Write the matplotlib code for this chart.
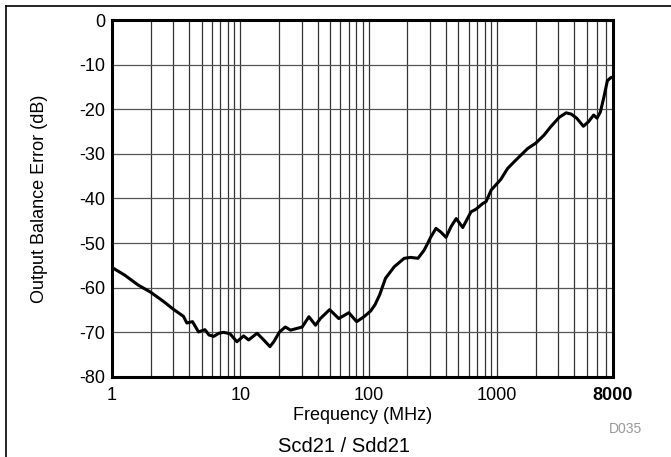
import numpy as np
import matplotlib.pyplot as plt
from matplotlib.lines import Line2D
from matplotlib.ticker import FixedLocator, NullFormatter

plt.rcParams['font.family'] = ['Liberation Sans', 'DejaVu Sans']

# Output balance error vs frequency
freq_mhz = [1.0, 1.02, 1.26, 1.6, 2.0, 2.5, 3.0, 3.6, 3.83, 4.24, 4.72, 5.3, 5.7,
            6.2, 6.8, 7.4, 8.3, 9.4, 10.6, 11.6, 13.5, 15.2, 17.0, 18.2, 20.2,
            22.4, 24.6, 27.7, 30.3, 34.2, 38.5, 42.0, 49.6, 58.4, 70.0, 80.5,
            91.8, 103.6, 112, 122, 135, 158, 189, 212, 242, 270, 305, 334, 364,
            400, 438, 480, 540, 626, 685, 775, 820, 900, 1070, 1205, 1355, 1530,
            1730, 2000, 2320, 2620, 3050, 3450, 3790, 4170, 4700, 5150, 5650,
            6000, 6380, 6800, 7230, 7700, 8000]
balance_db = [-55.4, -55.6, -57.2, -59.4, -61.0, -63.0, -64.8, -66.4, -67.9, -67.6,
              -69.9, -69.4, -70.6, -70.9, -70.2, -70.0, -70.3, -72.1, -70.8, -71.7,
              -70.2, -71.7, -73.2, -72.1, -69.9, -68.8, -69.5, -69.1, -68.8, -66.5,
              -68.4, -66.9, -64.9, -66.9, -65.6, -67.6, -66.5, -65.2, -63.8, -61.5,
              -57.9, -55.3, -53.4, -53.2, -53.4, -51.6, -48.6, -46.7, -47.5, -48.7,
              -46.3, -44.5, -46.5, -43.0, -42.4, -41.1, -40.7, -38.1, -35.7, -33.3,
              -31.8, -30.3, -28.8, -27.6, -25.8, -23.9, -21.8, -20.8, -21.1, -22.0,
              -23.8, -22.8, -21.3, -22.0, -20.6, -17.2, -13.6, -12.9, -12.8]

x_ticks = [1, 10, 100, 1000, 8000]
x_tick_labels = ['1', '10', '100', '1000', '8000']
y_ticks = [0, -10, -20, -30, -40, -50, -60, -70, -80]

fig = plt.figure(figsize=(6.71, 4.57), dpi=100)
ax = fig.add_axes([0.1669, 0.1751, 0.7467, 0.7811])

ax.plot(freq_mhz, balance_db, color='black', linewidth=2.2, solid_joinstyle='round')

ax.set_xscale('log')
ax.set_xlim(1, 8000)
ax.set_ylim(-80, 0)

# grid: every integer step of each decade
minor = [m * 10 ** d for d in range(4) for m in range(2, 10) if m * 10 ** d < 8000]
ax.xaxis.set_major_locator(FixedLocator(x_ticks))
ax.xaxis.set_minor_locator(FixedLocator(minor))
ax.xaxis.set_minor_formatter(NullFormatter())
ax.set_xticklabels(x_tick_labels)
ax.set_yticks(y_ticks)
ax.set_yticklabels([str(v) for v in y_ticks])
ax.grid(True, which='both', axis='x', color='#333333', linewidth=0.9)
ax.grid(True, which='major', axis='y', color='#555555', linewidth=0.9)
ax.tick_params(which='both', length=0, labelsize=13)
ax.tick_params(axis='x', pad=7.5)
ax.tick_params(axis='y', pad=5)
ax.get_xticklabels()[-1].set_fontweight('bold')

for s in ax.spines.values():
    s.set_linewidth(2.2)

ax.set_xlabel('Frequency (MHz)', fontsize=13)
ax.xaxis.set_label_coords(0.5, -0.083)
ax.set_ylabel('Output Balance Error (dB)', fontsize=13)
ax.yaxis.set_label_coords(-0.128, 0.5)

fig.text(625.5 / 671, 0.0525, 'D035', fontsize=10, color='#999999', ha='center')
fig.text(344.5 / 671, 0.011, 'Scd21 / Sdd21', fontsize=14.5, ha='center')

# outer frame lines
fig.add_artist(Line2D([6 / 671, 1], [1 - 6 / 457, 1 - 6 / 457], color='black', linewidth=1.2))
fig.add_artist(Line2D([6 / 671, 6 / 671], [0, 1 - 6 / 457], color='black', linewidth=1.2))

fig.savefig('out.png', dpi=100)
